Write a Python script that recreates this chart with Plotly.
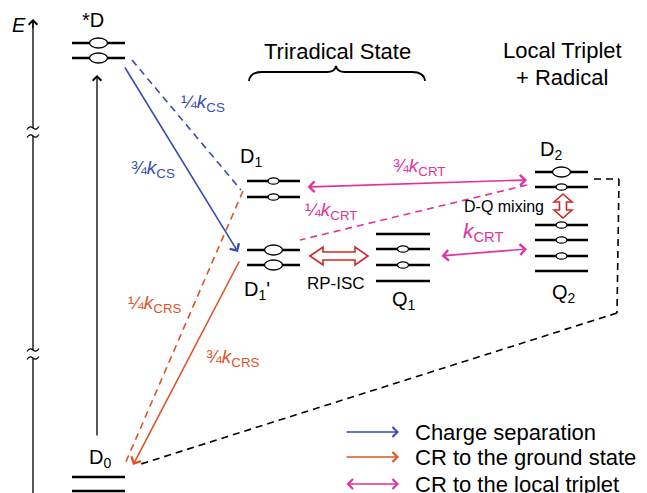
import plotly.graph_objects as go
import math

FONT = "Arial, Liberation Sans, sans-serif"
BLUE = "#3a4cb0"
ORANGE = "#de5328"
MAGENTA = "#e0339c"
RED = "#cc2a2a"

# ---- energy levels (schematic energies in page units) ----
state_names = ["*D", "D<sub>1</sub>", "D<sub>1</sub>'", "Q<sub>1</sub>", "D<sub>2</sub>", "Q<sub>2</sub>", "D<sub>0</sub>"]
state_left = [72, 247, 247, 376, 535, 535, 72]
state_right = [125, 300, 300, 430, 588, 588, 125]
level_y = [[43, 58], [181, 197], [250, 265], [234, 249, 265, 281], [172, 187], [225, 240, 256, 271], [477, 491]]
# spin marker size per level: 2 = large, 1 = small, 0 = none
spin_kind = [[2, 2], [1, 1], [2, 2], [0, 1, 1, 0], [2, 1], [1, 1, 1, 0], [0, 0]]
label_xy = [(93, 20), (251, 157), (257, 290), (404, 300), (551, 150), (564, 293), (100, 458)]

# ---- transitions ----
# (x_from, y_from, x_to, y_to, colour, dashed, double)
transitions = [
    (124, 66, 238, 252, BLUE, False, False),
    (132, 60, 241, 190, BLUE, True, False),
    (240, 260, 133, 465, ORANGE, False, False),
    (243, 191, 125, 464, ORANGE, True, False),
    (306, 187, 527, 180, MAGENTA, False, True),
    (527, 185, 300, 240, MAGENTA, True, True),
    (440, 256, 527, 249, MAGENTA, False, True),
    (97, 437, 97, 75, "black", False, False),
]
rate_labels = ["¼<i>k</i><sub>CS</sub>", "¾<i>k</i><sub>CS</sub>", "¼<i>k</i><sub>CRS</sub>", "¾<i>k</i><sub>CRS</sub>",
               "¾<i>k</i><sub>CRT</sub>", "¼<i>k</i><sub>CRT</sub>", "<i>k</i><sub>CRT</sub>"]
rate_label_xy = [(203, 103), (153, 169), (155, 304), (233, 358), (419, 167), (331, 211), (483, 232)]
rate_label_col = [BLUE, BLUE, ORANGE, ORANGE, MAGENTA, MAGENTA, MAGENTA]
rate_label_size = [19, 19, 19, 19, 19, 19, 21]

legend_text = ["Charge separation", "CR to the ground state", "CR to the local triplet"]
legend_col = [BLUE, ORANGE, MAGENTA]
legend_y = [432, 457, 484]

fig = go.Figure()
shapes = []
ann = []
DASH = "7px,5px"

# energy axis with two breaks
axis_breaks = [132, 354]
seg = [493, axis_breaks[1] + 4, axis_breaks[1] - 4, axis_breaks[0] + 4, axis_breaks[0] - 4, 22]
for j in range(0, 6, 2):
    shapes.append(dict(type="line", x0=33, x1=33, y0=seg[j], y1=seg[j + 1], line=dict(color="black", width=1.3)))
for by in axis_breaks:
    for dy in (-4, 4):
        yy = by + dy
        shapes.append(dict(type="path", path=f"M27,{yy+1.5} Q30,{yy-3} 33,{yy} Q36,{yy+3} 39,{yy-1.5}",
                           line=dict(color="black", width=1.2)))
ann.append(dict(x=33, y=19, ax=33, ay=30, xref="x", yref="y", axref="x", ayref="y",
                showarrow=True, arrowhead=4, arrowsize=1.3, arrowwidth=1.3, arrowcolor="black", text=""))
ann.append(dict(x=19, y=25, text="<i>E</i>", showarrow=False, font=dict(size=20, family=FONT, color="black")))

# levels + spin ovals
for i, name in enumerate(state_names):
    xl, xr = state_left[i], state_right[i]
    xc = (xl + xr) / 2
    for y, k in zip(level_y[i], spin_kind[i]):
        shapes.append(dict(type="line", x0=xl, x1=xr, y0=y, y1=y, line=dict(color="black", width=2.6)))
        if k:
            w, h = (9, 5) if k == 2 else (5.5, 3.2)
            shapes.append(dict(type="circle", x0=xc - w, x1=xc + w, y0=y - h, y1=y + h,
                               fillcolor="white", line=dict(color="black", width=1.3)))
    lx, ly = label_xy[i]
    ann.append(dict(x=lx, y=ly, text=name, showarrow=False, font=dict(size=20, family=FONT, color="black")))


def arrow(x0, y0, x1, y1, col, dashed, double, width=1.6):
    if not dashed:
        ann.append(dict(x=x1, y=y1, ax=x0, ay=y0, xref="x", yref="y", axref="x", ayref="y", text="",
                        showarrow=True, arrowhead=4, startarrowhead=4, arrowsize=1.3, startarrowsize=1.3,
                        arrowwidth=width, arrowcolor=col, arrowside="end+start" if double else "end"))
    else:
        shapes.append(dict(type="line", x0=x0, y0=y0, x1=x1, y1=y1, line=dict(color=col, width=width, dash=DASH)))
        ends = [(x0, y0, x1, y1)] + ([(x1, y1, x0, y0)] if double else [])
        for a, b, c, d in ends:
            L = math.hypot(c - a, d - b)
            ux, uy = (c - a) / L, (d - b) / L
            ann.append(dict(x=c, y=d, ax=c - 3 * ux, ay=d - 3 * uy, xref="x", yref="y", axref="x", ayref="y",
                            text="", showarrow=True, arrowhead=4, arrowsize=1.3, arrowwidth=width, arrowcolor=col))


for t in transitions:
    arrow(*t, width=1.3 if t[4] == "black" else 1.6)

# black dashed path D2 -> D0
path_x = [594, 619, 617, 141]
path_y = [179, 179, 313, 464]
for j in range(3):
    shapes.append(dict(type="line", x0=path_x[j], y0=path_y[j], x1=path_x[j + 1], y1=path_y[j + 1],
                       line=dict(color="black", width=1.6, dash=DASH)))
L = math.hypot(path_x[3] - path_x[2], path_y[3] - path_y[2])
ann.append(dict(x=path_x[3], y=path_y[3], ax=path_x[3] + 3 * (path_x[2] - path_x[3]) / L,
                ay=path_y[3] + 3 * (path_y[2] - path_y[3]) / L, xref="x", yref="y", axref="x", ayref="y",
                text="", showarrow=True, arrowhead=4, arrowsize=1.3, arrowwidth=1.6, arrowcolor="black"))

# rate labels
for txt, (x, y), c, s in zip(rate_labels, rate_label_xy, rate_label_col, rate_label_size):
    ann.append(dict(x=x, y=y, text=txt, showarrow=False, font=dict(size=s, family=FONT, color=c)))

# hollow double arrows
shapes.append(dict(type="path",
                   path="M310,256 L323,247 L323,252 L355,252 L355,247 L368,256 L355,265 L355,260 L323,260 L323,265 Z",
                   line=dict(color=RED, width=1.6), fillcolor="white"))
shapes.append(dict(type="path",
                   path="M563,194 L572,202 L566.5,202 L566.5,210 L572,210 L563,218 L554,210 L559.5,210 L559.5,202 L554,202 Z",
                   line=dict(color=RED, width=1.6), fillcolor="white"))
ann.append(dict(x=336, y=283, text="RP-ISC", showarrow=False, font=dict(size=17, family=FONT, color="black")))
ann.append(dict(x=504, y=206, text="D-Q mixing", showarrow=False, font=dict(size=16, family=FONT, color="black")))

# headings
ann.append(dict(x=337, y=51, text="Triradical State", showarrow=False, font=dict(size=22, family=FONT, color="black")))
shapes.append(dict(type="path",
                   path="M249,81 Q250,72 262,72 L327,72 Q335,72 336,66 Q337,72 345,72 L412,72 Q424,72 425,81",
                   line=dict(color="black", width=1.8)))
ann.append(dict(x=562, y=50, text="Local Triplet", showarrow=False, font=dict(size=22, family=FONT, color="black")))
ann.append(dict(x=562, y=77, text="+ Radical", showarrow=False, font=dict(size=22, family=FONT, color="black")))

# legend
for txt, c, y in zip(legend_text, legend_col, legend_y):
    ann.append(dict(x=399, y=y, ax=345, ay=y, xref="x", yref="y", axref="x", ayref="y", text="",
                    showarrow=True, arrowhead=4, startarrowhead=4, arrowsize=1.2, startarrowsize=1.2,
                    arrowwidth=1.6, arrowcolor=c, arrowside="end+start" if c == MAGENTA else "end"))
    ann.append(dict(x=413, y=y, text=txt, xanchor="left", showarrow=False,
                    font=dict(size=22, family=FONT, color="black")))

for a in ann:
    a.setdefault("xref", "x")
    a.setdefault("yref", "y")

# the page body has an 8px margin: the plot spans page pixels 8..647 x 8..493
fig.update_layout(
    width=639, height=485, margin=dict(l=0, r=0, t=0, b=0),
    paper_bgcolor="white", plot_bgcolor="white", showlegend=False,
    xaxis=dict(range=[8, 647], visible=False, fixedrange=True),
    yaxis=dict(range=[493, 8], visible=False, fixedrange=True),
    shapes=shapes, annotations=ann,
)
fig.write_html("out.html")
